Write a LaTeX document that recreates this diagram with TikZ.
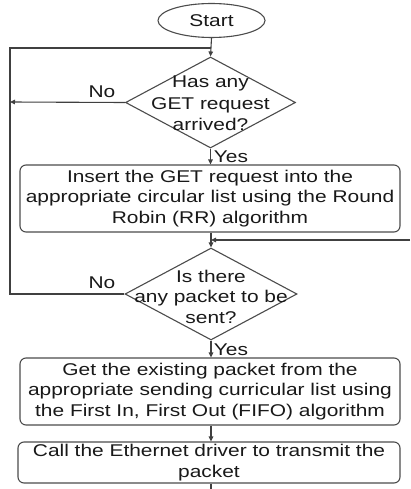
\documentclass[tikz,border=0pt]{standalone}
\usepackage{fontspec}
\setmainfont{Liberation Sans}[FakeStretch=1.23]
\usetikzlibrary{shapes.geometric,arrows.meta}
\begin{document}
\begin{tikzpicture}[x=1pt,y=-1pt,
  every node/.style={font=\fontsize{17}{20.5}\selectfont, text=black!90},
  line/.style={draw=black!75, line width=1.1pt},
  arr/.style={line, -{Triangle[length=5pt,width=4.5pt]}},
  procbox/.style={draw=black!70, line width=1.1pt, rounded corners=6pt,
    minimum width=380pt, inner sep=0pt, align=center},
  decision/.style={diamond, draw=black!70, line width=1.1pt, inner sep=0pt},
  terminal/.style={ellipse, draw=black!70, line width=1.1pt, inner sep=0pt},
  lbl/.style={inner sep=0pt, align=center},
]
\fill[white] (0,0) rectangle (410,489);
\useasboundingbox (0,0) rectangle (410,489);

% shapes
\node[terminal, minimum width=107pt, minimum height=34pt] (s) at (211.5,20.5) {Start};

\node[decision, minimum width=170pt, minimum height=91pt] (d1) at (210.5,102.5) {};
\node[lbl, font=\fontsize{17}{21.5}\selectfont] (d1t) at (210.5,103.5) {Has any\\GET request\\arrived?};

\node[procbox, minimum height=67pt] (b1) at (210,198.5)
  {Insert the GET request into the\\appropriate circular list using the Round\\Robin (RR) algorithm};

\node[decision, minimum width=172pt, minimum height=92pt] (d2) at (211,294) {};
\node[lbl] (d2t) at (211,296.5) {Is there\\any packet to be\\sent?};

\node[procbox, minimum height=67pt] (b2) at (210,391.5)
  {Get the existing packet from the\\appropriate sending curricular list using\\the First In, First Out (FIFO) algorithm};

\node[procbox, minimum width=382pt, minimum height=41pt] (b3) at (209,462.5)
  {Call the Ethernet driver to transmit the\\packet};

% branch labels
\node[lbl] (no1) at (102,92) {No};
\node[lbl] (yes1) at (231,157) {Yes};
\node[lbl] (no2) at (102,283) {No};
\node[lbl] (yes2) at (231,350) {Yes};

% routing points
\coordinate (lt) at (10,48);
\coordinate (lb) at (10,294);
\coordinate (nl) at (10,102);
\coordinate (rin) at (410,240);
\coordinate (j2) at (211,240);
\coordinate (out) at (211,489);

% connectors
\draw[arr] (s.south) -- (d1.north);
\draw[line] (d2.west) -- (lb) -- (lt) -- (lt -| d1.north);
\draw[arr] (d1.west) -- (nl);
\draw[arr] (d1.south) -- (b1.north -| d1.south);
\draw[arr] (b1.south -| d2.north) -- (d2.north);
\draw[arr] (rin) -- (j2);
\draw[arr] (d2.south) -- (b2.north -| d2.south);
\draw[arr] (b2.south -| d2.south) -- (b3.north -| d2.south);
\draw[line] (b3.south -| out) -- (out);
\end{tikzpicture}
\end{document}
